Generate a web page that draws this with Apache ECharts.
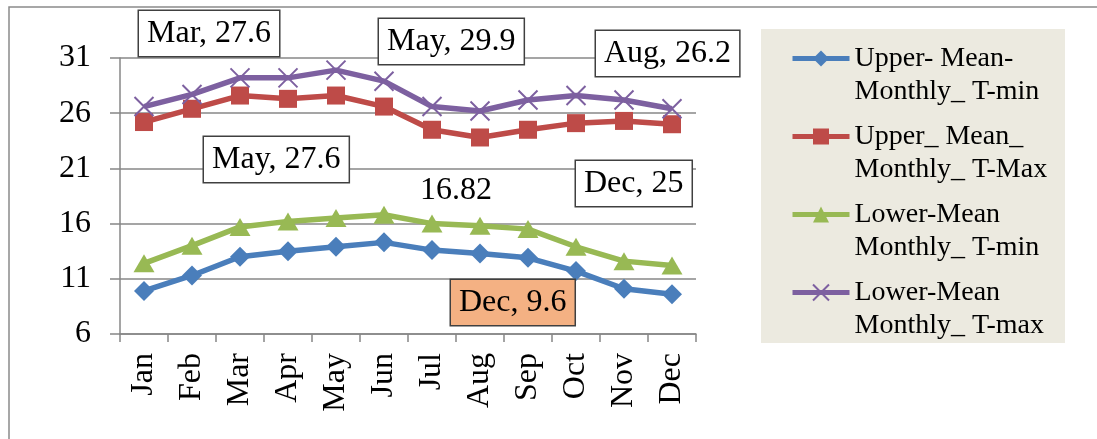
<!DOCTYPE html>
<html>
<head>
<meta charset="utf-8">
<script src="https://cdn.jsdelivr.net/npm/echarts@6/dist/echarts.min.js"></script>
<style>
  html, body { margin: 0; padding: 0; background: #fff; }
  #chart { width: 1097px; height: 439px; }
</style>
</head>
<body>
<div id="chart"></div>
<script>
const months = ["Jan", "Feb", "Mar", "Apr", "May", "Jun", "Jul", "Aug", "Sep", "Oct", "Nov", "Dec"];
const upperTmin = [9.9, 11.3, 13.0, 13.5, 13.9, 14.3, 13.6, 13.3, 12.9, 11.7, 10.1, 9.6];
const upperTmax = [25.2, 26.4, 27.6, 27.3, 27.6, 26.6, 24.5, 23.8, 24.5, 25.1, 25.3, 25.0];
const lowerTmin = [12.4, 14.0, 15.7, 16.2, 16.5, 16.8, 16.0, 15.8, 15.5, 13.9, 12.6, 12.2];
const lowerTmax = [26.6, 27.7, 29.2, 29.2, 29.9, 28.9, 26.6, 26.2, 27.2, 27.6, 27.2, 26.4];
const seriesNames = [
  "Upper- Mean-Monthly_ T-min",
  "Upper_ Mean_ Monthly_ T-Max",
  "Lower-Mean Monthly_ T-min",
  "Lower-Mean Monthly_ T-max",
];
// two-line legend text, as in the original
const legendLines = {
  "Upper- Mean-Monthly_ T-min": ["Upper- Mean-", "Monthly_ T-min"],
  "Upper_ Mean_ Monthly_ T-Max": ["Upper_ Mean_", "Monthly_ T-Max"],
  "Lower-Mean Monthly_ T-min": ["Lower-Mean", "Monthly_ T-min"],
  "Lower-Mean Monthly_ T-max": ["Lower-Mean", "Monthly_ T-max"],
};
const noteTexts = ["Mar, 27.6", "May, 29.9", "Aug, 26.2", "May, 27.6", "16.82", "Dec, 25", "Dec, 9.6"];

const serif = "'Liberation Serif', 'Times New Roman', serif";
const chart = echarts.init(document.getElementById("chart"));

function box(text, x, y, fill) {
  return {
    type: "text",
    x: x,
    y: y,
    z: 20,
    style: {
      text: text,
      font: "32px " + serif,
      fill: "#000",
      lineHeight: 33,
      backgroundColor: fill || "#fff",
      borderColor: "#404040",
      borderWidth: 1.5,
      padding: [6, 8, 6, 8],
    },
  };
}

const option = {
  animation: false,
  grid: { left: 120, right: 401, top: 58, bottom: 105 },
  xAxis: {
    type: "category",
    data: months,
    boundaryGap: true,
    axisLine: { lineStyle: { color: "#878787", width: 1.5 } },
    axisTick: { show: true, length: 8, lineStyle: { color: "#878787", width: 1.5 } },
    axisLabel: {
      rotate: 90,
      margin: 19,
      interval: 0,
      color: "#000",
      fontFamily: serif,
      fontSize: 32,
    },
  },
  yAxis: {
    type: "value",
    min: 6,
    max: 31,
    interval: 5,
    axisLine: { show: true, lineStyle: { color: "#878787", width: 1.5 } },
    axisTick: { show: true, length: 10, lineStyle: { color: "#878787", width: 1.5 } },
    splitLine: { lineStyle: { color: "#878787", width: 1.5 } },
    axisLabel: { margin: 29, color: "#000", fontFamily: serif, fontSize: 32 },
  },
  legend: {
    orient: "vertical",
    left: 785,
    top: 4,
    itemWidth: 57,
    itemHeight: 20,
    itemGap: -21,
    data: seriesNames,
    lineStyle: { width: 5 },
    // a blank first line keeps the icon level with the first text line
    formatter: (n) => "\u00a0\n" + legendLines[n].join("\n"),
    textStyle: {
      fontFamily: serif,
      fontSize: 28,
      lineHeight: 33,
      color: "#000",
    },
  },
  graphic: [
    {
      type: "rect",
      z: -10,
      shape: { x: 9, y: 7, width: 1300, height: 700 },
      style: { fill: "none", stroke: "#8a8a8a", lineWidth: 1.5 },
    },
    {
      type: "rect",
      z: -5,
      shape: { x: 761, y: 29, width: 304, height: 314 },
      style: { fill: "#ECEAE0" },
    },
    box(noteTexts[0], 139, 11),
    box(noteTexts[1], 379, 19),
    box(noteTexts[2], 596, 31),
    box(noteTexts[3], 204, 137),
    {
      type: "text",
      x: 456,
      y: 191,
      z: 20,
      style: {
        text: noteTexts[4],
        font: "32px " + serif,
        fill: "#000",
        textAlign: "center",
        textVerticalAlign: "middle",
      },
    },
    box(noteTexts[5], 576, 161),
    box(noteTexts[6], 451, 280, "#F4B183"),
  ],
  series: [
    {
      name: seriesNames[0],
      type: "line",
      data: upperTmin,
      color: "#4A7EBB",
      symbol: "diamond",
      symbolSize: 20,
      lineStyle: { width: 5.5 },
    },
    {
      name: seriesNames[1],
      type: "line",
      data: upperTmax,
      color: "#BE4B48",
      symbol: "rect",
      symbolSize: 18,
      lineStyle: { width: 5.5 },
    },
    {
      name: seriesNames[2],
      type: "line",
      data: lowerTmin,
      color: "#98B954",
      symbol: "triangle",
      symbolSize: [21, 18],
      lineStyle: { width: 5.5 },
    },
    {
      name: seriesNames[3],
      type: "line",
      data: lowerTmax,
      color: "#7D60A0",
      symbol: "path://M0,0L16,16M16,0L0,16",
      symbolSize: 19,
      itemStyle: { borderColor: "#7D60A0", borderWidth: 2 },
      lineStyle: { width: 5.5 },
    },
  ],
};

chart.setOption(option);
</script>
</body>
</html>
